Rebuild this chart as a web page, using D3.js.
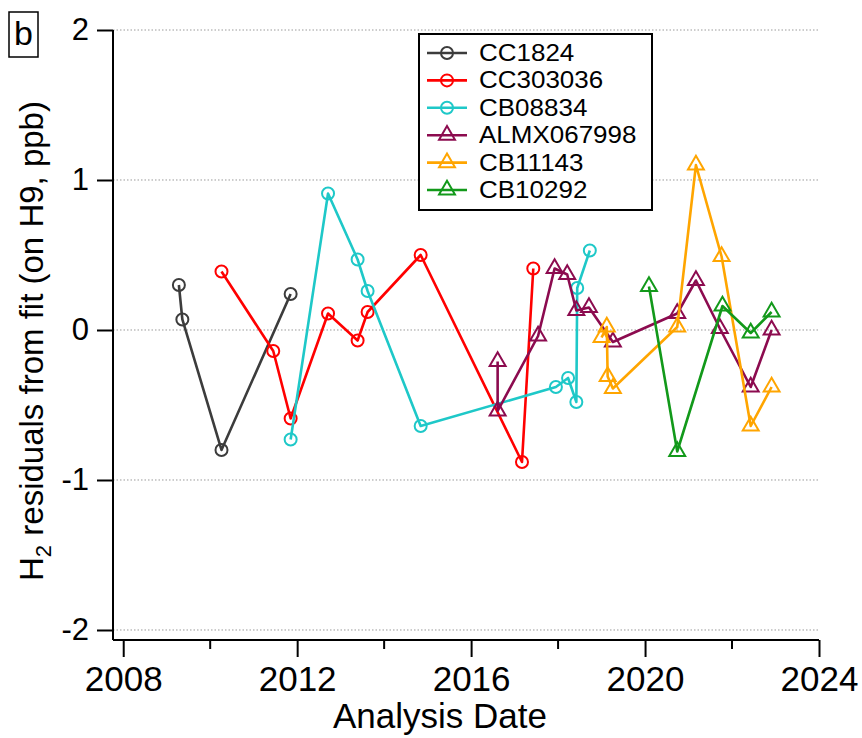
<!DOCTYPE html>
<html>
<head>
<meta charset="utf-8">
<script src="https://cdn.jsdelivr.net/npm/d3@7"></script>
<style>
  html, body { margin: 0; padding: 0; background: #fff; }
  svg { display: block; font-family: "Liberation Sans", Arial, Helvetica, sans-serif; }
</style>
</head>
<body>
<svg id="chart" width="862" height="738"></svg>
<script>
// H2 residuals from the fit for each reference tank, by analysis date (decimal year)
const seriesNames = ["CC1824", "CC303036", "CB08834", "ALMX067998", "CB11143", "CB10292"];
const seriesColors = ["#3c3c3c", "#ff0000", "#1ec8c8", "#8c0b4f", "#ffa500", "#12991a"];
const seriesMarkers = ["circle", "circle", "circle", "triangle", "triangle", "triangle"];

const cc1824Dates = [2009.28, 2009.36, 2010.26, 2011.85];
const cc1824Values = [0.30, 0.07, -0.80, 0.24];

const cc303036Dates = [2010.26, 2011.45, 2011.85, 2012.71, 2013.39, 2013.62, 2014.84, 2017.17, 2017.43];
const cc303036Values = [0.39, -0.14, -0.59, 0.11, -0.07, 0.12, 0.50, -0.88, 0.41];

const cb08834Dates = [2011.85, 2012.71, 2013.39, 2013.62, 2014.84, 2017.95, 2018.23, 2018.42, 2018.44, 2018.73];
const cb08834Values = [-0.73, 0.91, 0.47, 0.26, -0.64, -0.38, -0.32, -0.48, 0.28, 0.53];

const almx067998Dates = [2016.61, 2016.61, 2017.54, 2017.92, 2018.21, 2018.42, 2018.71, 2019.26, 2020.74, 2021.17, 2021.72, 2022.43, 2022.91];
const almx067998Values = [-0.21, -0.54, -0.04, 0.41, 0.37, 0.13, 0.15, -0.08, 0.11, 0.33, 0.01, -0.38, 0.00];

const cb11143Dates = [2019.00, 2019.12, 2019.14, 2019.26, 2020.74, 2021.17, 2021.76, 2022.43, 2022.91];
const cb11143Values = [-0.05, 0.02, -0.31, -0.39, 0.02, 1.10, 0.49, -0.64, -0.38];

const cb10292Dates = [2020.09, 2020.74, 2021.78, 2022.43, 2022.91];
const cb10292Values = [0.29, -0.81, 0.16, -0.02, 0.12];

const majorYears = [2008, 2012, 2016, 2020, 2024];
const minorYears = [2010, 2014, 2018, 2022];
const yTickValues = [2, 1, 0, -1, -2];

const seriesDates = [cc1824Dates, cc303036Dates, cb08834Dates, almx067998Dates, cb11143Dates, cb10292Dates];
const seriesValues = [cc1824Values, cc303036Values, cb08834Values, almx067998Values, cb11143Values, cb10292Values];

const series = seriesNames.map((name, i) => ({
  name,
  color: seriesColors[i],
  marker: seriesMarkers[i],
  points: seriesDates[i].map((d, j) => ({ date: d, value: seriesValues[i][j] }))
}));

const svg = d3.select("#chart");

const x = d3.scaleLinear().domain([2007.765, 2024]).range([113, 819]);
const y = d3.scaleLinear().domain([-2.0667, 2]).range([640, 30]);

// dotted horizontal grid at each labelled value
svg.append("g")
  .selectAll("line")
  .data(yTickValues)
  .join("line")
  .attr("x1", x.range()[0]).attr("x2", 818)
  .attr("y1", d => y(d)).attr("y2", d => y(d))
  .attr("stroke", "#9a9a9a")
  .attr("stroke-width", 1)
  .attr("stroke-dasharray", "1.5,2");

// left axis
const yAxis = svg.append("g")
  .attr("transform", `translate(${x.range()[0]},0)`)
  .call(d3.axisLeft(y).tickValues(yTickValues).tickSize(16).tickPadding(8).tickFormat(d3.format("d")));
yAxis.select(".domain").attr("d", `M0,${y(2)}V${y.range()[0]}`).attr("stroke", "#000").attr("stroke-width", 2);
yAxis.selectAll(".tick line").attr("stroke", "#000").attr("stroke-width", 2);
yAxis.selectAll(".tick text")
  .attr("font-size", 31)
  .attr("fill", "#000")
  .attr("font-family", "Liberation Sans, Arial, sans-serif")
  .text(d => d < 0 ? "-" + Math.abs(d) : d);

// bottom axis, major ticks labelled
const xAxis = svg.append("g")
  .attr("transform", `translate(0,${y.range()[0]})`)
  .call(d3.axisBottom(x).tickValues(majorYears).tickSize(17).tickPadding(9).tickFormat(d3.format("d")));
xAxis.select(".domain").attr("d", `M${x.range()[0]},0H${x(2024)}`).attr("stroke", "#000").attr("stroke-width", 2);
xAxis.selectAll(".tick line").attr("stroke", "#000").attr("stroke-width", 2);
xAxis.selectAll(".tick text")
  .attr("font-size", 35)
  .attr("fill", "#000")
  .attr("font-family", "Liberation Sans, Arial, sans-serif");

// minor ticks
svg.append("g")
  .selectAll("line")
  .data(minorYears)
  .join("line")
  .attr("x1", d => x(d)).attr("x2", d => x(d))
  .attr("y1", y.range()[0]).attr("y2", y.range()[0] + 9)
  .attr("stroke", "#000").attr("stroke-width", 2);

// axis titles
svg.append("text")
  .attr("x", 440).attr("y", 728)
  .attr("text-anchor", "middle")
  .attr("font-size", 35)
  .text("Analysis Date");

const yTitle = svg.append("text")
  .attr("transform", "translate(43,341) rotate(-90)")
  .attr("text-anchor", "middle")
  .attr("font-size", 33);
yTitle.append("tspan").text("H");
yTitle.append("tspan").attr("font-size", 22).attr("dy", 8).text("2");
yTitle.append("tspan").attr("dy", -8).text(" residuals from fit (on H9, ppb)");

// panel letter
svg.append("rect")
  .attr("x", 9).attr("y", 12).attr("width", 29).attr("height", 45)
  .attr("fill", "none").attr("stroke", "#000").attr("stroke-width", 1.5);
svg.append("text")
  .attr("x", 23.5).attr("y", 45)
  .attr("text-anchor", "middle")
  .attr("font-size", 34)
  .text("b");

const line = d3.line().x(d => x(d.date)).y(d => y(d.value));
const triangle = d3.symbol().type(d3.symbolTriangle).size(110);

function drawMarker(sel, marker, color) {
  if (marker === "circle") {
    sel.append("circle").attr("r", 6).attr("fill", "none")
      .attr("stroke", color).attr("stroke-width", 2);
  } else {
    sel.append("path").attr("d", triangle()).attr("fill", "none")
      .attr("stroke", color).attr("stroke-width", 2);
  }
}

// data traces
const plot = svg.append("g");
series.forEach(s => {
  const g = plot.append("g");
  g.append("path")
    .datum(s.points)
    .attr("d", line)
    .attr("fill", "none")
    .attr("stroke", s.color)
    .attr("stroke-width", 2.6)
    .attr("stroke-linejoin", "round");
  g.selectAll("g.pt")
    .data(s.points)
    .join("g")
    .attr("class", "pt")
    .attr("transform", d => `translate(${x(d.date)},${y(d.value)})`)
    .each(function () { drawMarker(d3.select(this), s.marker, s.color); });
});

// legend
const legend = svg.append("g");
legend.append("rect")
  .attr("x", 419).attr("y", 34).attr("width", 233).attr("height", 176)
  .attr("fill", "#fff").attr("stroke", "#000").attr("stroke-width", 2);
const rowY = d3.scalePoint().domain(seriesNames).range([53, 190]);
series.forEach(s => {
  const row = legend.append("g").attr("transform", `translate(0,${rowY(s.name)})`);
  row.append("line").attr("x1", 427).attr("x2", 467).attr("y1", 0).attr("y2", 0)
    .attr("stroke", s.color).attr("stroke-width", 2.6);
  const m = row.append("g").attr("transform", "translate(447,0)");
  drawMarker(m, s.marker, s.color);
  row.append("text")
    .attr("transform", "translate(479,8) scale(1.13,1)")
    .attr("font-size", 23)
    .text(s.name);
});
</script>
</body>
</html>
